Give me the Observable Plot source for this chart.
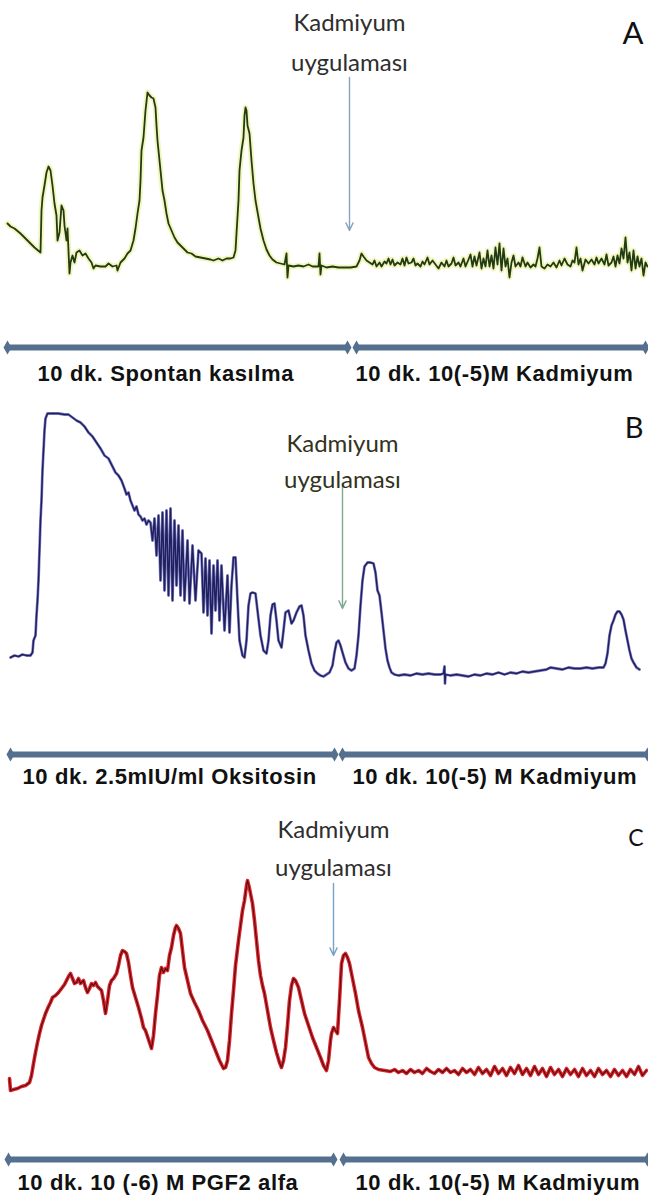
<!DOCTYPE html>
<html>
<head>
<meta charset="utf-8">
<script src="https://cdn.jsdelivr.net/npm/d3@7"></script>
<script src="https://cdn.jsdelivr.net/npm/@observablehq/plot@0.6"></script>
<style>
  html, body { margin: 0; padding: 0; background: #fff; }
  #chart { width: 648px; }
  #chart svg { display: block; }
</style>
</head>
<body>
<div id="chart"></div>
<script>
// Recording position along the chart paper (x) and contraction amplitude (y).
const traceA = [[7,47],[10,44],[14,42],[20,37],[27,30],[34,23],[40,18],[41,60],[42,73],[44,85],[46,98],[48,104],[50,100],[52,85],[54,67],[56,55],[57,30],[59,38],[61,65],[63,60],[64,45],[66,30],[67,42],[68,20],[69,-3],[70,8],[72,15],[74,8],[76,18],[79,20],[82,15],[85,17],[88,12],[91,8],[93,2],[95,5],[100,4],[105,4],[108,7],[112,4],[116,5],[117,0],[120,8],[124,12],[127,17],[130,20],[133,30],[135,42],[137,57],[139,70],[140,90],[141,120],[143,133],[145,160],[147,178],[149,175],[151,173],[153,172],[155,163],[156,145],[157,130],[158,120],[160,100],[162,80],[164,70],[166,57],[168,47],[171,40],[174,33],[177,28],[181,24],[184,21],[187,18],[191,17],[195,14],[200,13],[205,12],[210,11],[213,10],[218,12],[222,10],[226,12],[230,12],[233,13],[235,20],[236,37],[238,70],[239,100],[241,120],[243,133],[244,155],[245,163],[246,160],[247,145],[249,137],[251,110],[253,87],[255,70],[258,53],[260,42],[263,30],[266,21],[269,15],[272,11],[276,8],[280,7],[284,6],[286,17],[287,-7],[288,5],[293,4],[298,5],[303,4],[308,6],[312,4],[318,4],[319,17],[320,-4],[321,5],[326,3],[332,4],[338,3],[344,3],[350,3],[356,4],[359,10],[361,17],[363,14],[366,10],[369,8],[372,6],[374,10],[376,4],[379,8],[381,4],[384,9],[386,7],[388,12],[390,6],[392,11],[394,5],[397,8],[400,6],[402,12],[404,5],[406,13],[408,7],[411,8],[413,12],[415,5],[417,7],[420,4],[422,9],[424,6],[427,13],[429,6],[432,10],[435,6],[438,2],[441,8],[444,4],[446,10],[448,4],[451,7],[453,13],[455,5],[458,8],[460,4],[463,12],[465,4],[468,11],[470,16],[472,4],[474,14],[476,5],[479,18],[481,2],[483,12],[485,4],[487,20],[489,4],[491,15],[493,2],[495,23],[497,6],[499,27],[501,0],[503,22],[505,4],[507,12],[509,-7],[511,8],[513,15],[515,4],[518,8],[520,4],[522,13],[525,4],[527,8],[530,3],[533,6],[535,4],[537,12],[539,23],[541,4],[544,2],[547,6],[550,4],[553,8],[556,3],[559,10],[561,5],[564,12],[567,6],[570,4],[572,10],[574,8],[576,23],[578,6],[580,12],[582,0],[585,11],[588,7],[591,11],[594,6],[596,13],[598,7],[601,12],[604,6],[606,16],[608,5],[611,8],[613,14],[615,4],[617,15],[619,7],[621,22],[623,12],[625,33],[627,8],[629,18],[631,0],[633,20],[635,2],[637,14],[639,4],[641,12],[643,-5],[645,8],[647,4]];

const traceB = [[10,23],[14,25],[18,24],[22,26],[26,25],[30,25],[32,28],[33,40],[35,45],[36,65],[37,80],[38,100],[39,130],[40,160],[41,180],[42,210],[43,230],[44,250],[45,262],[47,267],[52,267],[58,267],[64,266],[68,266],[72,263],[76,260],[80,258],[84,254],[88,248],[92,244],[96,238],[100,232],[104,225],[108,222],[112,214],[115,208],[118,205],[121,200],[124,192],[126,186],[128,188],[130,180],[132,175],[134,170],[136,174],[138,166],[140,164],[142,160],[144,162],[146,156],[148,160],[150,158],[152,140],[154,162],[156,125],[158,165],[160,100],[162,168],[164,90],[166,170],[168,85],[170,172],[172,80],[174,160],[176,95],[178,155],[180,85],[182,150],[184,80],[187,140],[189,77],[192,135],[195,80],[198,130],[201,127],[203,68],[205,122],[207,65],[209,120],[211,47],[213,115],[215,70],[217,120],[219,60],[221,115],[224,50],[227,105],[229,48],[231,95],[233,123],[235,123],[237,80],[239,40],[242,25],[244,23],[246,40],[248,75],[250,87],[252,88],[255,87],[257,70],[260,45],[263,30],[266,27],[268,40],[270,65],[272,76],[274,77],[276,60],[278,40],[281,33],[283,50],[285,68],[288,70],[291,57],[293,60],[296,68],[299,74],[301,75],[303,65],[305,45],[308,30],[311,17],[314,10],[317,7],[320,5],[323,4],[326,6],[329,8],[332,15],[334,28],[336,38],[338,40],[340,35],[342,28],[345,18],[348,12],[351,10],[354,12],[356,25],[358,45],[360,75],[362,100],[364,114],[367,118],[370,118],[373,117],[375,108],[377,90],[379,85],[381,68],[383,50],[385,32],[387,20],[389,13],[391,8],[394,6],[398,5],[404,6],[410,5],[416,7],[422,6],[428,7],[434,6],[440,6],[443,7],[444,14],[444.5,-3],[445,6],[450,5],[456,6],[462,5],[468,4],[474,6],[480,5],[486,7],[492,6],[498,8],[504,6],[510,8],[516,7],[522,9],[528,8],[534,9],[540,10],[546,11],[550,13],[556,12],[562,11],[568,13],[574,12],[580,12],[586,13],[592,12],[598,13],[603,13],[605,17],[607,27],[609,45],[611,55],[613,60],[615,66],[617,69],[619,69],[621,66],[623,61],[625,50],[627,40],[629,30],[631,22],[633,18],[636,13],[639,11]];

const traceC = [[9,2],[10,-10],[13,-9],[17,-8],[21,-6],[25,-5],[29,-2],[31,5],[33,17],[35,28],[37,38],[39,47],[41,55],[43,61],[45,67],[48,74],[50,78],[52,83],[55,85],[58,88],[61,92],[64,96],[66,100],[68,104],[70,107],[72,102],[74,97],[76,98],[78,102],[80,97],[83,100],[85,93],[87,88],[89,92],[91,97],[93,95],[95,98],[97,94],[99,92],[101,90],[103,80],[105,67],[107,80],[109,95],[111,100],[113,102],[116,107],[118,115],[120,125],[122,130],[124,129],[126,127],[128,118],[130,105],[132,93],[135,83],[138,73],[141,62],[143,53],[145,50],[147,44],[149,38],[151,32],[153,45],[155,67],[157,85],[159,105],[161,113],[163,108],[165,112],[167,110],[169,125],[171,133],[173,145],[175,153],[176,155],[178,152],[180,147],[182,130],[184,113],[187,100],[190,87],[194,78],[198,70],[202,60],[207,50],[211,40],[215,30],[219,20],[223,12],[225,13],[227,20],[229,40],[231,67],[233,90],[235,115],[238,140],[240,155],[242,170],[244,180],[246,195],[247,200],[249,192],[251,182],[252,177],[254,160],[256,140],[258,120],[260,105],[262,95],[264,87],[267,70],[270,53],[273,40],[276,28],[279,18],[281,13],[283,20],[285,33],[287,55],[289,80],[291,95],[293,102],[295,100],[298,93],[301,80],[304,67],[308,55],[312,43],[316,33],[320,23],[323,15],[326,10],[328,20],[330,40],[331,47],[333,53],[335,50],[337,47],[339,80],[341,117],[343,125],[345,127],[347,123],[349,117],[352,102],[355,87],[358,70],[362,53],[365,38],[368,23],[371,17],[374,13],[378,11],[384,10],[390,9],[394,11],[398,8],[402,10],[406,7],[410,11],[414,8],[418,10],[422,7],[426,12],[430,9],[434,7],[438,11],[442,8],[446,12],[450,8],[454,10],[458,6],[462,12],[466,8],[470,11],[474,6],[478,13],[482,7],[486,11],[490,5],[494,14],[498,7],[502,12],[506,5],[510,13],[514,7],[518,15],[522,6],[526,12],[530,5],[534,14],[538,6],[542,12],[546,4],[550,13],[554,6],[558,11],[562,4],[566,12],[570,6],[574,11],[578,4],[582,12],[586,5],[590,10],[594,4],[598,12],[602,6],[606,10],[610,4],[614,11],[618,5],[622,10],[626,4],[630,11],[634,6],[638,14],[642,5],[646,10]];

// Period bars (10 dk each) and their labels
const barsA = [{x1: 7, x2: 347, y: -77}, {x1: 356, x2: 645, y: -77}];
const barsB = [{x1: 10, x2: 334, y: -74}, {x1: 342, x2: 647, y: -74}];
const barsC = [{x1: 8, x2: 333, y: -79}, {x1: 343, x2: 647, y: -79}];

const labelsA = [{x: 37, y: -77, text: "10 dk. Spontan kasılma"}, {x: 355, y: -77, text: "10 dk. 10(-5)M Kadmiyum"}];
const labelsB = [{x: 22, y: -74, text: "10 dk. 2.5mIU/ml Oksitosin"}, {x: 352, y: -74, text: "10 dk. 10(-5) M Kadmiyum"}];
const labelsC = [{x: 17, y: -79, text: "10 dk. 10 (-6) M PGF2 alfa"}, {x: 355, y: -79, text: "10 dk. 10(-5) M Kadmiyum"}];

// Cadmium application arrows
const cadmiumA = [{x: 349, y1: 193, y2: 40}];
const cadmiumB = [{x: 342, y1: 197, y2: 72}];
const cadmiumC = [{x: 333, y1: 197, y2: 125}];

const annotationText = "Kadmiyum\nuygulaması";
const panelLetters = ["A", "B", "C"];

const annFont = 24;
const panels = [
  {letter: panelLetters[0], trace: traceA, bars: barsA, labels: labelsA, cad: cadmiumA,
   height: 398, base: 270,
   halo: {stroke: "#eef2a6", strokeWidth: 5.5, strokeOpacity: 0.75},
   core: {stroke: "#213b14", strokeWidth: 1.8},
   arrowColor: "#86a3c2", firstBaseline: 31, lineHeight: 1.66, textFill: "#2e2e2e",
   letterSize: 31, letterDy: 21, labelDy: 33},
  {letter: panelLetters[1], trace: traceB, bars: barsB, labels: labelsB, cad: cadmiumB,
   height: 400, base: 282,
   halo: {stroke: "#4a4ab8", strokeWidth: 2.8, strokeOpacity: 0.7},
   core: {stroke: "#20205a", strokeWidth: 1.5},
   arrowColor: "#7fa890", firstBaseline: 54, lineHeight: 1.5, textFill: "#33331c",
   letterSize: 29, letterDy: 19, labelDy: 29},
  {letter: panelLetters[2], trace: traceC, bars: barsC, labels: labelsC, cad: cadmiumC,
   height: 398, base: 282,
   halo: {stroke: "#e4222b", strokeWidth: 3.6, strokeOpacity: 1},
   core: {stroke: "#4a1212", strokeWidth: 1.1},
   arrowColor: "#74a2c8", firstBaseline: 40, lineHeight: 1.55, textFill: "#2e2e2e",
   letterSize: 23, letterDy: 31, labelDy: 30}
];

const barColor = "#55708f";
const container = document.getElementById("chart");

for (const p of panels) {
  const ends = p.bars.flatMap(b => [{x: b.x1, y: b.y}, {x: b.x2, y: b.y}]);
  const textDy = p.firstBaseline - 0.71 * p.lineHeight * annFont;
  const svg = Plot.plot({
    width: 648,
    height: p.height,
    marginTop: 0, marginRight: 0, marginBottom: 0, marginLeft: 0,
    style: {background: "#ffffff", overflow: "visible"},
    x: {domain: [0, 648], axis: null},
    y: {domain: [p.base - p.height, p.base], axis: null},
    marks: [
      Plot.line(p.trace, {x: d => d[0], y: d => d[1], ...p.halo, strokeLinejoin: "round", strokeLinecap: "round"}),
      Plot.line(p.trace, {x: d => d[0], y: d => d[1], ...p.core, strokeLinejoin: "round", strokeLinecap: "round"}),
      Plot.arrow(p.cad, {x: "x", y1: "y1", y2: "y2", stroke: p.arrowColor, strokeWidth: 1.4, headLength: 9, headAngle: 50}),
      Plot.text(p.cad, {x: "x", frameAnchor: "top", dy: textDy, text: () => annotationText,
        lineAnchor: "top", lineHeight: p.lineHeight, fontSize: annFont, fontFamily: "Lato, 'Open Sans', sans-serif",
        fill: p.textFill}),
      Plot.text([p.letter], {frameAnchor: "top-right", dx: -5, dy: p.letterDy, text: d => d,
        lineAnchor: "top", fontSize: p.letterSize, fontFamily: "Lato, 'Open Sans', sans-serif", fill: "#111"}),
      Plot.link(p.bars, {x1: "x1", x2: "x2", y1: "y", y2: "y", stroke: barColor, strokeWidth: 6, strokeLinecap: "round"}),
      Plot.dot(ends, {x: "x", y: "y", symbol: "diamond", r: 4.2, fill: barColor, stroke: "none"}),
      Plot.text(p.labels, {x: "x", y: "y", text: "text", textAnchor: "start", lineAnchor: "bottom", dy: p.labelDy,
        fontSize: 22, fontWeight: "bold", fontFamily: "'Liberation Sans', Arial, sans-serif", fill: "#111"})
    ]
  });
  svg.querySelectorAll('g[font-weight="bold"] text').forEach(t => t.setAttribute("letter-spacing", "0.6"));
  container.appendChild(svg);
}
</script>
</body>
</html>
